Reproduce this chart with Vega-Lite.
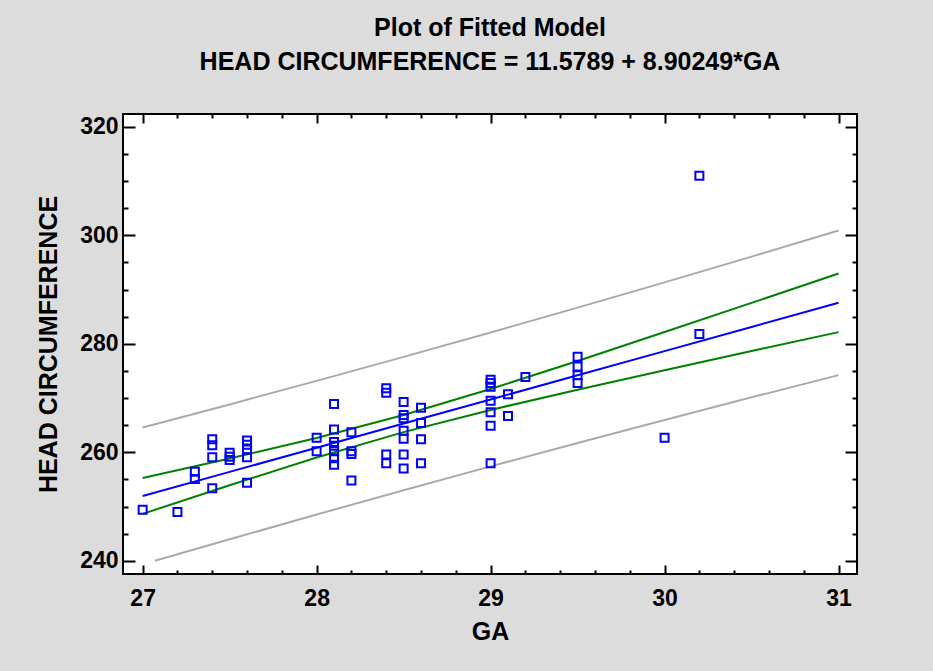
{
  "$schema": "https://vega.github.io/schema/vega-lite/v6.json",
  "width": 734,
  "height": 460,
  "autosize": {"type": "none"},
  "padding": {"left": 123, "top": 114, "right": 76, "bottom": 97},
  "background": "#dcdcdc",
  "title": {
    "text": "Plot of Fitted Model",
    "subtitle": "HEAD CIRCUMFERENCE = 11.5789 + 8.90249*GA",
    "font": "Liberation Sans",
    "fontSize": 25,
    "fontWeight": "bold",
    "subtitleFont": "Liberation Sans",
    "subtitleFontSize": 25,
    "subtitleFontWeight": "bold",
    "subtitleColor": "black",
    "color": "black",
    "subtitlePadding": 9,
    "anchor": "middle",
    "offset": 38
  },
  "config": {
    "view": {"stroke": "black", "strokeWidth": 2, "fill": "white"},
    "axis": {
      "grid": false,
      "domain": false,
      "labelFont": "Liberation Sans",
      "labelFontWeight": "bold",
      "labelFontSize": 23,
      "labelColor": "black",
      "titleFont": "Liberation Sans",
      "titleFontWeight": "bold",
      "titleFontSize": 25,
      "titleColor": "black",
      "tickColor": "black",
      "tickWidth": 2
    }
  },
  "datasets": {
    "obs": [
      {"GA": 27.0, "HC": 249.4},
      {"GA": 27.2, "HC": 249.0},
      {"GA": 27.3, "HC": 256.4}, {"GA": 27.3, "HC": 255.1},
      {"GA": 27.4, "HC": 262.4}, {"GA": 27.4, "HC": 261.3}, {"GA": 27.4, "HC": 259.1}, {"GA": 27.4, "HC": 253.4},
      {"GA": 27.5, "HC": 259.9}, {"GA": 27.5, "HC": 259.2}, {"GA": 27.5, "HC": 258.6},
      {"GA": 27.6, "HC": 262.2}, {"GA": 27.6, "HC": 261.4}, {"GA": 27.6, "HC": 260.5}, {"GA": 27.6, "HC": 259.1}, {"GA": 27.6, "HC": 254.4},
      {"GA": 28.0, "HC": 262.7}, {"GA": 28.0, "HC": 260.2},
      {"GA": 28.1, "HC": 268.9}, {"GA": 28.1, "HC": 264.2}, {"GA": 28.1, "HC": 261.9}, {"GA": 28.1, "HC": 261.2}, {"GA": 28.1, "HC": 260.2}, {"GA": 28.1, "HC": 258.9}, {"GA": 28.1, "HC": 257.7},
      {"GA": 28.2, "HC": 263.7}, {"GA": 28.2, "HC": 260.2}, {"GA": 28.2, "HC": 259.7}, {"GA": 28.2, "HC": 254.8},
      {"GA": 28.4, "HC": 271.8}, {"GA": 28.4, "HC": 271.0}, {"GA": 28.4, "HC": 259.6}, {"GA": 28.4, "HC": 258.0},
      {"GA": 28.5, "HC": 269.3}, {"GA": 28.5, "HC": 266.9}, {"GA": 28.5, "HC": 266.3}, {"GA": 28.5, "HC": 264.0}, {"GA": 28.5, "HC": 262.5}, {"GA": 28.5, "HC": 259.6}, {"GA": 28.5, "HC": 257.0},
      {"GA": 28.6, "HC": 268.2}, {"GA": 28.6, "HC": 265.4}, {"GA": 28.6, "HC": 262.4}, {"GA": 28.6, "HC": 258.0},
      {"GA": 29.0, "HC": 273.4}, {"GA": 29.0, "HC": 272.8}, {"GA": 29.0, "HC": 272.1}, {"GA": 29.0, "HC": 269.5}, {"GA": 29.0, "HC": 267.4}, {"GA": 29.0, "HC": 264.9}, {"GA": 29.0, "HC": 258.0},
      {"GA": 29.1, "HC": 270.7}, {"GA": 29.1, "HC": 266.7},
      {"GA": 29.2, "HC": 273.9},
      {"GA": 29.5, "HC": 277.6}, {"GA": 29.5, "HC": 275.8}, {"GA": 29.5, "HC": 274.2}, {"GA": 29.5, "HC": 272.8},
      {"GA": 30.0, "HC": 262.7},
      {"GA": 30.2, "HC": 311.0}, {"GA": 30.2, "HC": 281.8}
    ],
    "fitLine": [
      {"GA": 27.0, "HC": 251.95}, {"GA": 27.5, "HC": 256.40}, {"GA": 28.0, "HC": 260.85},
      {"GA": 28.5, "HC": 265.30}, {"GA": 29.0, "HC": 269.75}, {"GA": 29.5, "HC": 274.20},
      {"GA": 30.0, "HC": 278.65}, {"GA": 30.5, "HC": 283.11}, {"GA": 31.0, "HC": 287.56}
    ],
    "meanUpper": [
      {"GA": 27.0, "HC": 255.25}, {"GA": 27.5, "HC": 258.86}, {"GA": 28.0, "HC": 262.65},
      {"GA": 28.5, "HC": 266.87}, {"GA": 29.0, "HC": 271.68}, {"GA": 29.5, "HC": 276.85},
      {"GA": 30.0, "HC": 282.17}, {"GA": 30.5, "HC": 287.55}, {"GA": 31.0, "HC": 292.96}
    ],
    "meanLower": [
      {"GA": 27.0, "HC": 248.65}, {"GA": 27.5, "HC": 253.94}, {"GA": 28.0, "HC": 259.05},
      {"GA": 28.5, "HC": 263.73}, {"GA": 29.0, "HC": 267.82}, {"GA": 29.5, "HC": 271.55},
      {"GA": 30.0, "HC": 275.13}, {"GA": 30.5, "HC": 278.67}, {"GA": 31.0, "HC": 282.16}
    ],
    "predUpper": [
      {"GA": 27.0, "HC": 264.58}, {"GA": 27.5, "HC": 268.83}, {"GA": 28.0, "HC": 273.17},
      {"GA": 28.5, "HC": 277.59}, {"GA": 29.0, "HC": 282.09}, {"GA": 29.5, "HC": 286.67},
      {"GA": 30.0, "HC": 291.33}, {"GA": 30.5, "HC": 296.08}, {"GA": 31.0, "HC": 300.89}
    ],
    "predLower": [
      {"GA": 27.07, "HC": 240.0}, {"GA": 27.5, "HC": 243.97}, {"GA": 28.0, "HC": 248.53},
      {"GA": 28.5, "HC": 253.01}, {"GA": 29.0, "HC": 257.41}, {"GA": 29.5, "HC": 261.73},
      {"GA": 30.0, "HC": 265.97}, {"GA": 30.5, "HC": 270.14}, {"GA": 31.0, "HC": 274.23}
    ]
  },
  "resolve": {
    "scale": {"x": "independent", "y": "independent"},
    "axis": {"x": "independent", "y": "independent"}
  },
  "layer": [
    {
      "data": {"name": "predUpper"},
      "mark": {"type": "line", "color": "#aaaaaa", "strokeWidth": 2},
      "encoding": {
        "x": {"field": "GA", "type": "quantitative", "scale": {"domain": [26.887, 31.106], "nice": false, "zero": false},
              "axis": {"orient": "top", "labels": false, "title": null, "values": [27.2, 27.4, 27.6, 27.8, 28.2, 28.4, 28.6, 28.8, 29.2, 29.4, 29.6, 29.8, 30.2, 30.4, 30.6, 30.8], "tickSize": -4}},
        "y": {"field": "HC", "type": "quantitative", "scale": {"domain": [237.57, 322.37], "nice": false, "zero": false},
              "axis": {"orient": "right", "labels": false, "title": null, "values": [245, 250, 255, 265, 270, 275, 285, 290, 295, 305, 310, 315], "tickSize": -5}}
      }
    },
    {
      "data": {"name": "predLower"},
      "mark": {"type": "line", "color": "#aaaaaa", "strokeWidth": 2},
      "encoding": {
        "x": {"field": "GA", "type": "quantitative", "scale": {"domain": [26.887, 31.106], "nice": false, "zero": false}, "axis": null},
        "y": {"field": "HC", "type": "quantitative", "scale": {"domain": [237.57, 322.37], "nice": false, "zero": false}, "axis": null}
      }
    },
    {
      "data": {"name": "meanUpper"},
      "mark": {"type": "line", "color": "#008000", "strokeWidth": 2},
      "encoding": {
        "x": {"field": "GA", "type": "quantitative", "scale": {"domain": [26.887, 31.106], "nice": false, "zero": false},
              "axis": {"orient": "bottom", "labels": false, "title": null, "values": [27.2, 27.4, 27.6, 27.8, 28.2, 28.4, 28.6, 28.8, 29.2, 29.4, 29.6, 29.8, 30.2, 30.4, 30.6, 30.8], "tickSize": -4}},
        "y": {"field": "HC", "type": "quantitative", "scale": {"domain": [237.57, 322.37], "nice": false, "zero": false},
              "axis": {"orient": "left", "labels": false, "title": null, "values": [245, 250, 255, 265, 270, 275, 285, 290, 295, 305, 310, 315], "tickSize": -5}}
      }
    },
    {
      "data": {"name": "meanLower"},
      "mark": {"type": "line", "color": "#008000", "strokeWidth": 2},
      "encoding": {
        "x": {"field": "GA", "type": "quantitative", "scale": {"domain": [26.887, 31.106], "nice": false, "zero": false},
              "axis": {"orient": "top", "labels": false, "title": null, "values": [27, 28, 29, 30, 31], "tickSize": -9}},
        "y": {"field": "HC", "type": "quantitative", "scale": {"domain": [237.57, 322.37], "nice": false, "zero": false},
              "axis": {"orient": "right", "labels": false, "title": null, "values": [240, 260, 280, 300, 320], "tickSize": -12}}
      }
    },
    {
      "data": {"name": "fitLine"},
      "mark": {"type": "line", "color": "#0000ff", "strokeWidth": 2},
      "encoding": {
        "x": {"field": "GA", "type": "quantitative", "scale": {"domain": [26.887, 31.106], "nice": false, "zero": false},
              "axis": {"orient": "bottom", "labels": false, "title": null, "values": [27, 28, 29, 30, 31], "tickSize": -9}},
        "y": {"field": "HC", "type": "quantitative", "scale": {"domain": [237.57, 322.37], "nice": false, "zero": false},
              "axis": {"orient": "left", "labels": false, "title": null, "values": [240, 260, 280, 300, 320], "tickSize": -12}}
      }
    },
    {
      "data": {"name": "obs"},
      "mark": {"type": "point", "shape": "square", "filled": false, "color": "#0000ff", "size": 64, "strokeWidth": 2, "opacity": 1},
      "encoding": {
        "x": {"field": "GA", "type": "quantitative", "scale": {"domain": [26.887, 31.106], "nice": false, "zero": false},
              "axis": {"orient": "bottom", "ticks": false, "values": [27, 28, 29, 30, 31], "labelPadding": 13, "title": "GA", "titlePadding": 9}},
        "y": {"field": "HC", "type": "quantitative", "scale": {"domain": [237.57, 322.37], "nice": false, "zero": false},
              "axis": {"orient": "left", "ticks": false, "values": [240, 260, 280, 300, 320], "labelPadding": 5, "title": "HEAD CIRCUMFERENCE", "titlePadding": 18}}
      }
    }
  ]
}
